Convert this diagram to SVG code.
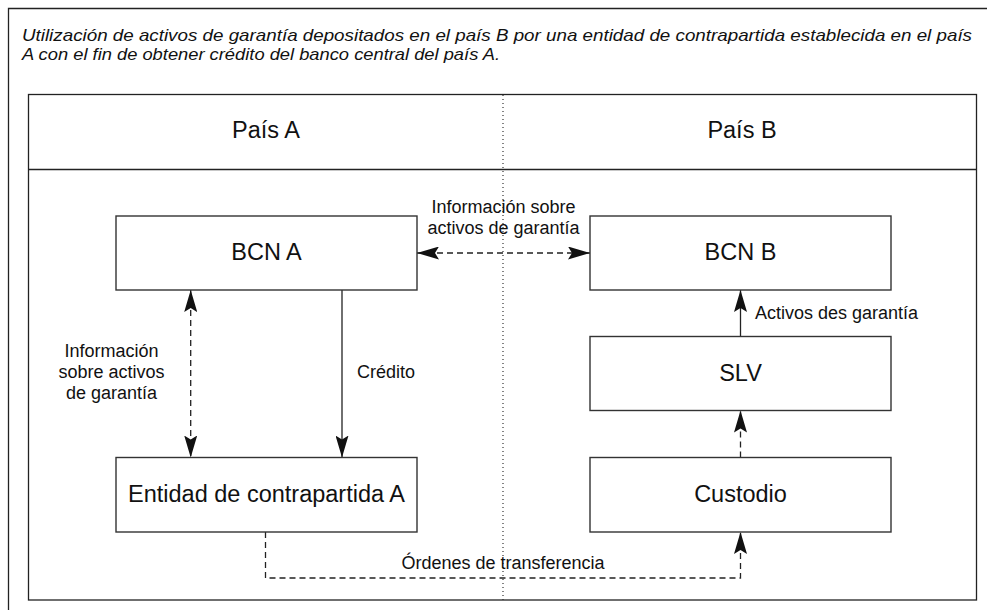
<svg xmlns="http://www.w3.org/2000/svg" width="987" height="610" viewBox="0 0 987 610">
<style>
  .frame{fill:none;stroke:#222;stroke-width:1.3}
  .box{fill:#fff;stroke:#333;stroke-width:1.4}
  .big{font-family:"Liberation Sans",Arial,sans-serif;font-size:23.5px;fill:#111;text-anchor:middle}
  .lbl{font-family:"Liberation Sans",Arial,sans-serif;font-size:18px;fill:#111}
  .mid{text-anchor:middle}
  .title{font-family:"Liberation Sans",Arial,sans-serif;font-size:17px;font-style:italic;fill:#111}
  .solid{fill:none;stroke:#222;stroke-width:1.3}
  .dash{fill:none;stroke:#222;stroke-width:1.3;stroke-dasharray:6 4}
  .dot{fill:none;stroke:#333;stroke-width:1.2;stroke-dasharray:1 3}
</style>
<defs>
  <marker id="ah" viewBox="0 0 22 13" refX="22" refY="6.5" markerWidth="22" markerHeight="13" markerUnits="userSpaceOnUse" orient="auto-start-reverse">
    <path d="M0,0 L22,6.5 L0,13 L4,6.5 Z" fill="#111"/>
  </marker>
</defs>

<g id="page">
  <path class="frame" d="M8.5,610 V8.5 H987"/>
  <text class="title" x="22" y="41" textLength="950" lengthAdjust="spacingAndGlyphs">Utilización de activos de garantía depositados en el país B por una entidad de contrapartida establecida en el país</text>
  <text class="title" x="22" y="60" textLength="478" lengthAdjust="spacingAndGlyphs">A con el fin de obtener crédito del banco central del país A.</text>
</g>

<g id="table">
  <rect class="frame" x="28.5" y="94.5" width="948" height="505.5"/>
  <line class="frame" x1="28.5" y1="169.5" x2="976.5" y2="169.5"/>
  <line class="dot" x1="503" y1="95" x2="503" y2="600"/>
  <text class="big" x="266" y="138">País A</text>
  <text class="big" x="742" y="138">País B</text>
</g>

<g id="connectors">
  <line class="dash" x1="417" y1="253" x2="590" y2="253" marker-start="url(#ah)" marker-end="url(#ah)"/>
  <line class="dash" x1="190.7" y1="290" x2="190.7" y2="457.5" marker-start="url(#ah)" marker-end="url(#ah)"/>
  <line class="solid" x1="342" y1="290" x2="342" y2="457.5" marker-end="url(#ah)"/>
  <line class="solid" x1="740.5" y1="336.5" x2="740.5" y2="290" marker-end="url(#ah)"/>
  <line class="dash" x1="740.5" y1="457.5" x2="740.5" y2="410.5" marker-end="url(#ah)"/>
  <path class="dash" d="M265.5,532 V578 H740.5 V532" marker-end="url(#ah)"/>
  <text class="lbl mid" x="503.5" y="213">Información sobre</text>
  <text class="lbl mid" x="503.5" y="234">activos de garantía</text>
  <text class="lbl mid" x="111.5" y="357">Información</text>
  <text class="lbl mid" x="111.5" y="378">sobre activos</text>
  <text class="lbl mid" x="111.5" y="399">de garantía</text>
  <text class="lbl" x="357" y="378">Crédito</text>
  <text class="lbl" x="755" y="319">Activos des garantía</text>
  <text class="lbl mid" x="503" y="569">Órdenes de transferencia</text>
</g>

<g id="bcn-a">
  <rect class="box" x="116" y="216" width="301" height="74"/>
  <text class="big" x="266.5" y="260">BCN A</text>
</g>
<g id="bcn-b">
  <rect class="box" x="590" y="216" width="301" height="74"/>
  <text class="big" x="740.5" y="260">BCN B</text>
</g>
<g id="slv">
  <rect class="box" x="590" y="336.5" width="301" height="74"/>
  <text class="big" x="740.5" y="380.5">SLV</text>
</g>
<g id="entidad-a">
  <rect class="box" x="116" y="457.5" width="301" height="74.5"/>
  <text class="big" x="266.5" y="502">Entidad de contrapartida A</text>
</g>
<g id="custodio">
  <rect class="box" x="590" y="457.5" width="301" height="74.5"/>
  <text class="big" x="740.5" y="502">Custodio</text>
</g>
</svg>
